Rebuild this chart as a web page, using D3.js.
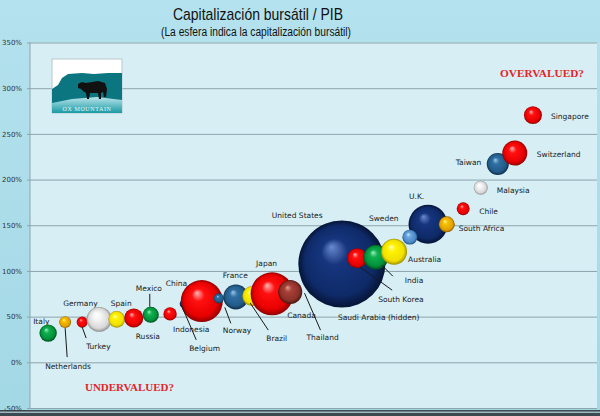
<!DOCTYPE html>
<html>
<head>
<meta charset="utf-8">
<script src="https://cdn.jsdelivr.net/npm/d3@7"></script>
<style>
  html, body { margin: 0; padding: 0; background: #a9dbe8; }
  svg { display: block; }
</style>
</head>
<body>
<div id="chart"></div>
<script>
// Market cap / GDP by country, bubble = market capitalisation (USD tn, approx.)
var countries = ["Italy", "Netherlands", "Turkey", "Germany", "Spain", "Russia", "Mexico",
  "Indonesia", "Belgium", "China", "Norway", "France", "Brazil", "Japan", "Canada",
  "Thailand", "Saudi Arabia (hidden)", "United States", "South Korea", "India", "Australia",
  "U.K.", "Sweden", "South Africa", "Chile", "Malaysia", "Taiwan", "Switzerland", "Singapore"];
// hidden ordering variable along the x axis
var rank = [3.2, 6.2, 9.2, 12.2, 15.3, 18.3, 21.3, 24.7, 27.2, 30.3, 33.3, 36.3, 39.2, 42.7, 45.9,
  50, 52.9, 55, 57.7, 61, 64.2, 70.2, 67, 73.5, 76.4, 79.5, 82.5, 85.5, 88.7];
var capToGdp = [32, 44, 44, 47, 47, 48.5, 52, 53, 64, 67, 70, 71.5, 72.5, 75, 77,
  79, 79, 107.5, 114, 115, 121, 151, 137, 151, 168, 191, 217, 229, 270.5];
var marketCap = [0.74, 0.35, 0.30, 1.53, 0.68, 0.89, 0.63, 0.44, 0.2, 4.33, 0.25, 1.53, 0.98, 4.54, 1.41,
  0.25, 0.98, 18.6, 0.98, 1.53, 1.66, 3.73, 0.55, 0.63, 0.41, 0.48, 1.19, 1.53, 0.79];
var yTicks = [-50, 0, 50, 100, 150, 200, 250, 300, 350];

var sphereColor = {
  "Italy": "green", "Netherlands": "gold", "Turkey": "red", "Germany": "white", "Spain": "yellow",
  "Russia": "red", "Mexico": "green", "Indonesia": "red", "Belgium": "navy", "China": "red",
  "Norway": "steel", "France": "steel", "Brazil": "yellow", "Japan": "red", "Canada": "brown",
  "Thailand": "navy", "Saudi Arabia (hidden)": "green", "United States": "navy", "South Korea": "red",
  "India": "green", "Australia": "yellow", "U.K.": "navy", "Sweden": "sky", "South Africa": "gold",
  "Chile": "red", "Malaysia": "white", "Taiwan": "steel", "Switzerland": "red", "Singapore": "red"
};
var palette = {
  red:    ["#ffb8b8", "#ff1010", "#e80000", "#900000"],
  green:  ["#a0f0c0", "#10b050", "#009038", "#004a20"],
  gold:   ["#fff0a0", "#f8c000", "#e0a000", "#8a5a00"],
  white:  ["#ffffff", "#f6f6f6", "#d8d8d8", "#909090"],
  yellow: ["#ffffc0", "#fff200", "#f0e000", "#a09000"],
  navy:   ["#6a8ad0", "#16357e", "#0e2a68", "#061436"],
  steel:  ["#a0c8ea", "#2f6fa2", "#225a88", "#0e2c48"],
  sky:    ["#d0e8ff", "#6aa8e0", "#4a88c8", "#22507e"],
  brown:  ["#e0a090", "#a84038", "#8a3028", "#4a1510"]
};

// label placement: text offset from bubble centre, optional leader line
var labelPos = {
  "Italy": [-15, -9], "Netherlands": [-20, 47, [0, 6, 2, 35]], "Turkey": [4, 27, [0, 5, 4, 16]],
  "Germany": [-36, -13], "Spain": [-6, -13], "Russia": [2, 21], "Mexico": [-15, -24, [-1, -21, -1, -8]],
  "Indonesia": [3, 18], "Belgium": [5, 47, [-3, 1, 12, 36]], "China": [-36, -15],
  "Norway": [4, 35, [6, 9, 12, 25]], "France": [-13, -19], "Brazil": [14, 45, [-2, 7, 16, 34]],
  "Japan": [-16, -28], "Canada": [-3, 26], "Thailand": [-7, 50, [-9, 3, 7, 40]],
  "Saudi Arabia (hidden)": [8, 30], "United States": [-70, -46],
  "South Korea": [21, 44, [3, 9, 35, 32]], "India": [29, 26, [6, 8, 17, 19]],
  "Australia": [14, 10], "U.K.": [-19, -25], "Sweden": [-41, -16], "South Africa": [12, 7],
  "Chile": [16, 5], "Malaysia": [16, 5], "Taiwan": [-42, 1], "Switzerland": [22, 4], "Singapore": [18, 4]
};

var W = 600, H = 416,
  mLeft = 30, mRight = 597, mTop = 42.5, mBottom = 408;

var x = d3.scaleLinear().domain([0, 100]).range([mLeft, mRight]);
var y = d3.scaleLinear().domain([-50, 350]).range([mBottom, mTop]);
var r = d3.scaleSqrt().domain([0, 19]).range([0, 44]);

var svg = d3.select("#chart").append("svg")
  .attr("width", W)
  .attr("height", H);

var defs = svg.append("defs");
var bg = defs.append("linearGradient").attr("id", "bg").attr("x1", 0).attr("y1", 0).attr("x2", 0).attr("y2", 1);
bg.append("stop").attr("offset", "0%").attr("stop-color", "#b4e2ee");
bg.append("stop").attr("offset", "100%").attr("stop-color", "#a3d8e5");

Object.keys(palette).forEach(function(k) {
  var g = defs.append("radialGradient").attr("id", "sp-" + k)
    .attr("cx", "50%").attr("cy", "50%").attr("r", "50%")
    .attr("fx", "38%").attr("fy", "30%");
  var c = palette[k];
  g.append("stop").attr("offset", "0%").attr("stop-color", c[0]);
  g.append("stop").attr("offset", "30%").attr("stop-color", c[1]);
  g.append("stop").attr("offset", "80%").attr("stop-color", c[2]);
  g.append("stop").attr("offset", "100%").attr("stop-color", c[3]);
});

svg.append("rect").attr("width", W).attr("height", H).attr("fill", "url(#bg)");
svg.append("rect")
  .attr("x", mLeft).attr("y", mTop)
  .attr("width", mRight - mLeft).attr("height", mBottom - mTop)
  .attr("fill", "#d6eef4");
svg.append("rect").attr("x", 0).attr("y", 410).attr("width", W).attr("height", 6).attr("fill", "#3a4a50");
svg.append("rect").attr("x", 0).attr("y", 411.5).attr("width", W).attr("height", 1.5).attr("fill", "#9fb8c0");

// y axis with gridlines
var yAxis = d3.axisLeft(y).tickValues(yTicks)
  .tickSize(-(mRight - mLeft) - 3)
  .tickPadding(5)
  .tickFormat(function(d) { return d + "%"; });

var ax = svg.append("g")
  .attr("transform", "translate(" + (mLeft - 3) + ",0)")
  .call(yAxis);
ax.select(".domain").remove();
ax.selectAll("line").attr("stroke", "#8ea4ac").attr("stroke-width", 1);
ax.selectAll("text")
  .attr("font-family", "DejaVu Sans, sans-serif")
  .attr("font-size", 7)
  .attr("fill", "#333");
svg.append("line")
  .attr("x1", mLeft).attr("x2", mLeft).attr("y1", mTop).attr("y2", mBottom)
  .attr("stroke", "#8ea4ac");

// logo
var logo = svg.append("g").attr("transform", "translate(52,59)");
logo.append("rect").attr("width", 70).attr("height", 54).attr("fill", "#fff").attr("stroke", "#b8c8cc");
var lg = defs.append("linearGradient").attr("id", "lgo").attr("x1", 0).attr("y1", 0).attr("x2", 0).attr("y2", 1);
lg.append("stop").attr("offset", "0%").attr("stop-color", "#b8e4ea");
lg.append("stop").attr("offset", "100%").attr("stop-color", "#1a9aa4");
logo.append("path")
  .attr("d", "M0,30 L6,26 L10,19 L16,15 L30,14 L42,15 L56,14 L70,14 L70,54 L0,54 Z")
  .attr("fill", "#0b7580");
logo.append("path")
  .attr("d", "M0,44 L20,40 L45,38 L70,41 L70,54 L0,54 Z")
  .attr("fill", "url(#lgo)");
logo.append("path")
  .attr("d", "M26,25 L30,23 L34,24 L46,22 L53,24 L55,30 L54,38 L52,38 L51,33 L49,34 L49,40 L47,40 L46,34 L38,34 L37,40 L35,40 L34,34 L31,32 L29,30 L26,29 Z")
  .attr("fill", "#111");
logo.append("text")
  .attr("x", 35).attr("y", 52)
  .attr("text-anchor", "middle")
  .attr("font-family", "Liberation Serif, serif")
  .attr("font-size", 6)
  .attr("letter-spacing", 0.6)
  .attr("fill", "#e8f6f8")
  .text("OX MOUNTAIN");

// bubbles
var data = countries.map(function(c, i) {
  return { name: c, rank: rank[i], ratio: capToGdp[i], cap: marketCap[i] };
});

var labels = svg.append("g");
var bubbles = svg.append("g");

bubbles.selectAll("circle")
  .data(data)
  .enter().append("circle")
  .attr("cx", function(d) { return x(d.rank); })
  .attr("cy", function(d) { return y(d.ratio); })
  .attr("r", function(d) { return r(d.cap); })
  .attr("fill", function(d) { return "url(#sp-" + sphereColor[d.name] + ")"; });

var leaders = svg.append("g");
data.forEach(function(d) {
  var p = labelPos[d.name], cx = x(d.rank), cy = y(d.ratio);
  labels.append("text")
    .attr("x", cx + p[0])
    .attr("y", cy + p[1])
    .attr("font-family", "DejaVu Sans, sans-serif")
    .attr("font-size", 7.5)
    .attr("fill", "#1a1a1a")
    .text(d.name);
  if (p[2]) {
    leaders.append("line")
      .attr("x1", cx + p[2][0]).attr("y1", cy + p[2][1])
      .attr("x2", cx + p[2][2]).attr("y2", cy + p[2][3])
      .attr("stroke", "#1a1a1a")
      .attr("stroke-width", 1);
  }
});

// titles
svg.append("text")
  .attr("x", 258).attr("y", 20)
  .attr("text-anchor", "middle")
  .attr("font-family", "Liberation Sans, Arial, sans-serif")
  .attr("font-size", 17)
  .attr("textLength", 170).attr("lengthAdjust", "spacingAndGlyphs")
  .attr("fill", "#111")
  .text("Capitalización bursátil / PIB");
svg.append("text")
  .attr("x", 256).attr("y", 36)
  .attr("text-anchor", "middle")
  .attr("font-family", "Liberation Sans, Arial, sans-serif")
  .attr("font-size", 12)
  .attr("textLength", 190).attr("lengthAdjust", "spacingAndGlyphs")
  .attr("fill", "#111")
  .text("(La esfera indica la capitalización bursátil)");

svg.append("text")
  .attr("x", 500).attr("y", 77)
  .attr("font-family", "Liberation Serif, serif")
  .attr("font-weight", "bold")
  .attr("font-size", 11)
  .attr("textLength", 84).attr("lengthAdjust", "spacingAndGlyphs")
  .attr("fill", "#e4242a")
  .text("OVERVALUED?");
svg.append("text")
  .attr("x", 85).attr("y", 391)
  .attr("font-family", "Liberation Serif, serif")
  .attr("font-weight", "bold")
  .attr("font-size", 11)
  .attr("textLength", 89).attr("lengthAdjust", "spacingAndGlyphs")
  .attr("fill", "#e4242a")
  .text("UNDERVALUED?");
</script>
</body>
</html>
